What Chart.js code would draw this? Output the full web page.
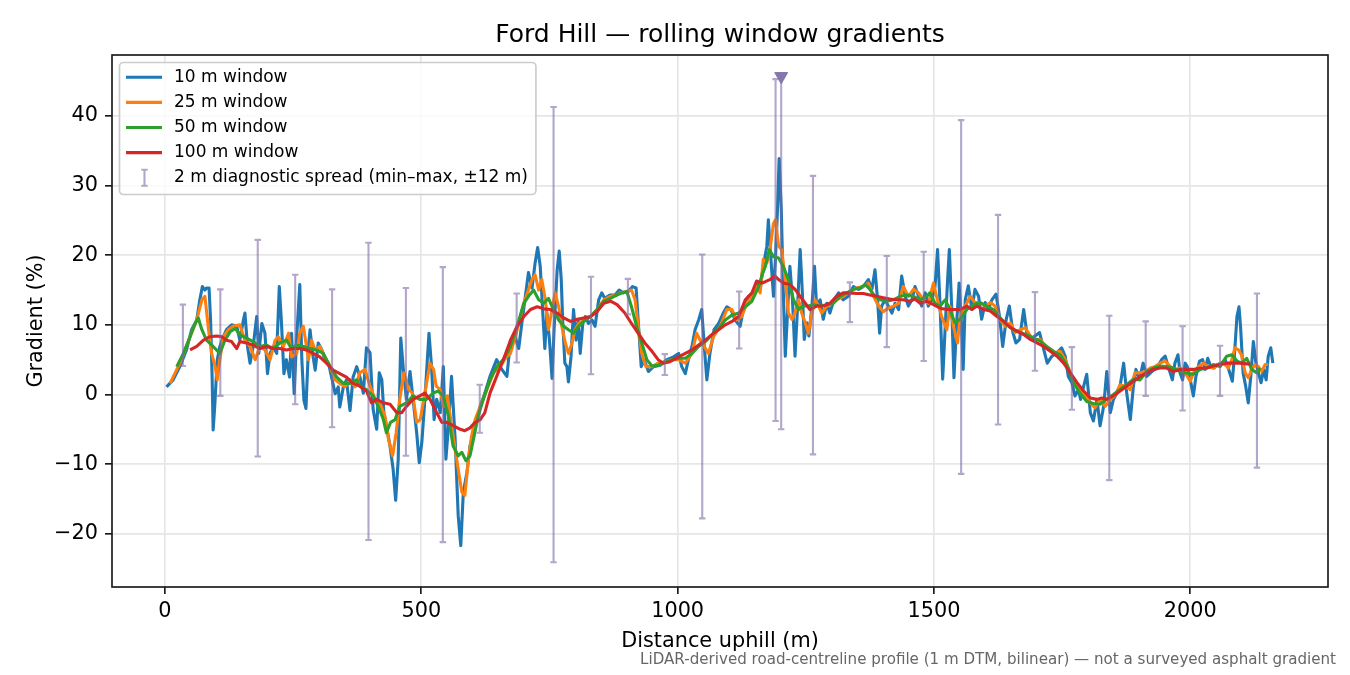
<!DOCTYPE html>
<html>
<head>
<meta charset="utf-8">
<title>Ford Hill gradients</title>
<script src="https://cdn.jsdelivr.net/npm/chart.js@4.4.1/dist/chart.umd.min.js"></script>
<style>
  html, body { margin: 0; padding: 0; background: #fff; }
  #wrap { width: 1350px; height: 675px; }
</style>
</head>
<body>
<div id="wrap"><canvas id="myChart" width="1350" height="675"></canvas></div>
<script>
// distance (m), gradient (%)
const win10 = [
  [3,1.1],[16,2.1],[29,4.0],[42,6.4],[52,9.3],[62,10.7],[68,13.6],[73,15.5],[78,15.0],[81,15.3],[86,15.3],[89,10.7],[92,2.5],[94,-5.1],[97,-1.8],
  [102,5.0],[107,6.9],[114,8.3],[120,9.3],[130,10.0],[140,9.8],[146,7.8],[153,10.7],[156,11.7],[161,6.9],[166,4.5],[172,6.9],[179,11.2],[183,5.9],
  [189,10.2],[195,8.8],[200,3.0],[205,5.9],[211,6.9],[218,5.9],[223,15.5],[227,10.7],[232,3.0],[237,5.0],[243,2.5],[247,8.8],[252,0.1],[257,8.3],
  [263,15.8],[267,5.0],[271,-0.8],[275,-2.0],[280,6.9],[283,9.3],[288,5.9],[293,3.5],[299,7.4],[306,6.4],[312,5.0],[319,4.5],[325,2.5],[332,0.1],
  [338,1.1],[341,-1.8],[348,1.1],[354,2.1],[361,-2.3],[367,2.5],[374,4.0],
  [380,2.6],[387,0.2],[393,6.7],[400,6.0],[406,-2.1],[413,-5.0],[418,3.1],[423,2.1],[427,-2.6],[432,-4.5],[439,-7.4],[445,-10.7],[450,-15.2],
  [455,-9.3],[460,8.1],[465,3.6],[471,-0.7],[478,3.3],[484,-0.7],[491,-5.5],[496,-9.8],[501,-6.9],[507,-0.7],[515,8.8],[520,4.0],[525,-3.6],
  [530,-0.7],[537,-2.6],[543,4.0],[548,-9.3],[553,-4.5],[559,2.6],[566,-6.4],[572,-17.4],[577,-21.7],[582,-14.0],[589,-11.2],[595,-7.4],
  [602,-5.5],[608,-4.0],[615,-1.7],[624,0.2],[634,2.6],[647,5.0],[657,3.6],[667,2.6],
  [674,7.8],[683,8.3],[690,6.6],[696,10.2],[703,14.1],[709,17.5],[716,15.3],[722,18.9],[727,21.1],[732,18.4],[737,11.7],[741,6.6],[745,11.7],
  [750,7.8],[755,2.3],[759,9.3],[765,17.9],[769,20.6],[773,16.5],[776,10.2],[780,4.5],[784,4.0],[787,1.8],[792,5.4],[797,12.2],[802,7.8],
  [806,10.7],[810,5.9],[815,10.2],[820,11.2],[826,10.2],[833,10.7],[839,9.8],[846,13.6],[852,14.6],
  [858,13.8],[868,14.3],[878,14.3],[886,15.0],[894,14.6],[904,14.8],[912,15.5],[919,15.3],[923,10.7],[929,4.0],[935,5.0],
  [943,3.3],[953,4.0],[966,4.2],[979,5.0],[992,5.4],[1002,5.9],[1008,4.0],[1015,3.0],[1021,5.0],[1028,6.9],[1034,9.3],[1041,10.7],[1047,12.2],
  [1052,6.9],[1057,2.1],[1063,5.9],[1071,9.3],[1080,10.2],[1089,11.7],[1096,12.6],[1104,12.2],[1112,10.7],[1122,9.8],[1128,12.2],[1138,14.1],
  [1148,14.6],[1158,16.0],
  [1161,15.1],[1167,18.4],[1174,21.3],[1177,25.1],[1182,19.4],[1187,14.1],[1191,19.8],[1195,27.0],[1198,33.9],[1202,27.0],[1206,15.1],[1210,5.5],
  [1215,12.7],[1219,18.4],[1224,13.6],[1229,5.5],[1234,12.7],[1239,20.8],[1243,15.1],[1247,7.9],[1252,10.3],[1256,8.4],[1262,12.7],[1267,18.4],
  [1271,12.7],[1278,13.6],[1284,10.8],[1291,13.1],[1297,11.7],[1305,13.6],[1314,14.6],[1323,13.6],[1333,14.1],[1343,15.5],[1353,15.1],[1362,15.5],
  [1372,16.5],[1379,15.1],[1385,17.9],[1390,13.6],[1394,8.8],[1398,12.7],[1405,13.6],[1411,12.7],[1418,11.7],[1424,13.1],[1431,12.2],[1437,17.0],
  [1444,14.1],[1450,12.7],[1457,13.6],[1463,15.5],[1470,14.1],[1476,12.7],[1483,14.6],[1489,12.7],[1496,13.6],[1502,15.5],[1507,20.8],[1512,12.7],
  [1517,2.2],[1522,9.8],[1527,17.0],[1530,20.8],[1535,11.7],[1539,2.4],[1544,9.8],[1549,16.0],
  [1554,9.8],[1557,3.6],[1561,13.6],[1567,15.6],[1574,12.2],[1580,15.1],[1587,14.1],[1593,10.8],[1600,13.2],[1606,12.2],[1613,13.6],[1621,14.4],
  [1628,11.2],[1634,6.9],[1641,10.8],[1647,12.7],[1654,8.9],[1660,7.4],[1667,7.9],[1675,12.2],[1681,8.9],[1689,7.9],[1697,8.4],[1706,8.9],
  [1714,6.5],[1721,4.5],[1730,5.5],[1740,6.0],[1749,6.7],[1756,5.5],[1762,2.6],[1769,1.7],[1775,-0.2],[1782,0.7],[1786,-0.7],[1792,1.2],
  [1798,2.9],[1805,-2.6],[1811,-3.8],[1818,-0.7],[1824,-4.5],[1831,-1.7],[1837,3.3],[1844,-2.6],[1850,-0.7],[1857,0.2],[1863,1.2],[1870,4.5],
  [1876,0.2],[1883,-3.6],[1889,1.2],[1894,3.6],[1901,2.2],
  [1908,4.5],[1915,2.6],[1925,3.3],[1935,3.8],[1944,5.0],[1951,5.5],[1957,4.0],[1965,2.1],[1970,4.5],[1976,5.7],[1980,3.1],[1985,2.1],[1990,4.5],
  [1994,4.0],[2000,2.1],[2006,-0.2],[2011,2.6],[2018,4.8],[2024,5.0],[2029,3.6],[2034,5.2],[2040,4.0],[2046,3.8],[2053,4.3],[2061,4.5],[2068,5.0],
  [2074,3.8],[2082,1.9],[2086,5.5],[2091,11.2],[2095,12.6],[2098,9.8],[2103,3.1],[2108,1.2],[2113,-1.2],[2118,2.6],[2123,7.6],[2128,4.5],
  [2133,3.1],[2138,1.7],[2143,3.6],[2148,2.1],[2152,5.5],[2157,6.7],[2161,4.5]
];

const win25 = [
  [10,1.6],[29,4.5],[49,8.3],[62,10.7],[72,13.6],[78,14.1],[85,9.3],[91,5.9],[98,4.0],[102,2.1],[107,5.0],[114,8.3],[124,9.3],[133,9.8],[146,10.0],
  [156,7.8],[166,6.9],[176,5.0],[185,6.9],[195,6.4],[205,5.0],[215,7.8],[221,8.3],[231,6.9],[241,8.8],[247,5.4],[257,5.9],[263,8.8],[270,9.8],
  [280,5.0],[286,7.8],[293,6.4],[302,6.9],[312,5.4],[322,4.0],[332,2.1],[341,1.6],[351,1.1],[361,2.1],[371,1.1],
  [380,3.1],[390,3.6],[400,1.2],[410,-0.7],[419,-1.2],[429,-3.1],[436,-6.4],[444,-8.8],[451,-5.5],[458,-0.7],[466,3.1],[475,0.7],[483,0.2],
  [491,-4.0],[498,-3.6],[507,0.2],[517,4.5],[524,3.6],[529,1.2],[537,0.7],[543,-1.7],[551,-0.2],[559,-4.5],[569,-9.3],[579,-14.0],[585,-14.5],
  [592,-9.3],[598,-6.0],[605,-3.6],[615,-1.7],[628,0.7],[641,3.1],[654,4.0],[667,5.5],
  [674,5.9],[687,9.3],[700,13.1],[709,15.0],[716,16.5],[722,17.2],[729,15.0],[735,16.5],[742,13.6],[748,9.3],[755,12.2],[761,14.6],[768,12.6],
  [774,9.8],[781,7.4],[787,5.9],[794,7.4],[800,9.3],[807,10.2],[817,10.7],[830,11.2],[843,12.2],[856,13.6],[869,14.1],[882,14.3],
  [888,14.6],[901,14.8],[910,15.0],[917,13.6],[923,9.8],[930,5.9],[938,4.0],[950,4.0],[962,4.5],[975,4.7],[989,5.0],[1002,5.0],[1015,4.5],[1028,5.9],
  [1037,8.8],[1044,7.8],[1052,6.9],[1060,5.9],[1070,8.3],[1083,9.8],[1096,12.2],[1106,12.2],[1115,10.7],[1125,11.2],[1135,13.1],[1145,14.1],
  [1154,15.5],
  [1161,14.6],[1167,19.4],[1174,18.9],[1180,20.8],[1187,24.6],[1191,25.1],[1197,21.3],[1203,20.8],[1210,16.5],[1216,11.7],[1223,10.8],[1229,11.7],
  [1236,13.6],[1242,11.7],[1249,10.3],[1255,8.8],[1262,11.7],[1268,13.6],[1275,12.7],[1281,11.7],[1291,12.7],[1301,13.1],[1310,13.6],[1323,14.1],
  [1336,14.8],[1349,15.3],[1362,15.5],[1372,16.0],[1382,14.1],[1392,12.7],[1401,11.9],[1411,12.4],[1421,12.7],[1431,13.1],[1440,15.5],[1450,14.1],
  [1460,15.1],[1470,14.6],[1479,13.6],[1489,13.1],[1499,16.0],[1505,14.1],[1515,11.2],[1525,9.3],[1531,12.7],[1538,9.8],[1546,7.4],
  [1551,11.2],[1561,12.7],[1571,14.1],[1580,13.2],[1590,13.2],[1600,12.7],[1610,13.2],[1619,12.7],[1629,10.8],[1639,9.8],[1649,10.3],[1658,8.9],
  [1668,9.3],[1678,9.6],[1688,8.4],[1697,7.9],[1707,7.9],[1717,6.9],[1727,6.5],[1736,6.0],[1746,6.2],[1756,5.0],[1766,3.1],[1775,1.4],[1785,0.5],
  [1795,-0.2],[1805,-1.2],[1814,-1.9],[1824,-0.7],[1834,-1.7],[1844,-0.7],[1853,-0.2],[1863,1.4],[1873,1.2],[1883,0.7],[1892,3.1],
  [1902,3.1],[1912,3.3],[1922,3.8],[1931,4.0],[1941,4.5],[1951,4.8],[1961,4.0],[1970,3.6],[1980,3.8],[1990,3.1],[2000,1.9],[2006,3.1],[2016,4.0],
  [2026,4.5],[2035,4.0],[2045,3.8],[2055,4.3],[2065,4.5],[2074,3.8],[2081,5.0],[2087,6.7],[2094,6.4],[2100,5.7],[2107,3.1],[2113,2.4],[2120,3.6],
  [2126,4.3],[2133,4.0],[2139,3.3],[2146,4.3],[2152,4.3]
];

const win50 = [
  [23,4.0],[36,5.9],[49,8.3],[59,10.2],[65,11.0],[72,9.3],[81,7.8],[94,6.9],[107,5.9],[117,7.8],[127,9.0],[137,9.5],[146,8.6],[159,8.1],[172,7.6],
  [185,6.9],[198,7.1],[211,6.6],[224,7.4],[237,7.8],[247,6.6],[257,7.1],[270,6.9],[283,6.6],[296,6.4],[309,5.9],[322,4.0],[335,2.5],[348,1.6],
  [361,1.6],[374,2.1],
  [380,1.2],[393,0.7],[406,-0.2],[416,-1.7],[426,-3.6],[432,-5.5],[440,-4.0],[449,-3.6],[458,-1.7],[471,-1.2],[484,-0.2],[497,-0.7],[510,-0.7],
  [523,0.2],[533,0.5],[543,-0.2],[553,-3.1],[562,-7.4],[572,-8.8],[579,-8.3],[587,-9.5],[595,-8.8],[603,-6.0],[611,-3.1],[621,-0.7],[634,2.1],
  [647,4.0],[660,5.0],
  [674,6.9],[687,9.8],[700,13.1],[709,14.1],[719,15.0],[729,13.6],[739,13.1],[748,13.8],[758,12.2],[768,10.7],[778,9.8],[787,9.3],[797,8.8],
  [807,9.8],[817,10.5],[830,11.2],[843,12.2],[856,13.4],[869,13.8],[882,14.3],
  [888,14.5],[901,14.8],[910,12.6],[920,9.8],
  [930,7.4],[940,5.0],[950,4.1],[962,4.2],[975,4.6],[989,5.0],[1002,5.2],[1015,5.2],[1028,5.9],[1041,6.9],[1054,7.6],[1067,8.6],[1080,9.5],
  [1093,10.7],[1106,11.4],[1119,11.7],[1132,12.6],[1145,13.4],[1158,15.5],
  [1164,17.0],[1171,18.4],[1179,20.8],[1187,19.8],[1197,19.6],[1206,18.4],[1216,16.5],[1226,13.6],[1236,12.2],[1245,12.7],[1255,12.7],[1265,12.9],
  [1278,12.7],[1291,12.9],[1304,13.1],[1317,14.1],[1330,14.6],[1343,15.1],[1356,15.3],[1366,15.8],[1375,15.1],[1385,14.1],[1395,13.6],[1408,13.4],
  [1421,13.6],[1434,14.1],[1447,14.3],[1460,14.1],[1473,13.6],[1486,14.1],[1492,14.6],[1502,13.1],[1512,12.7],[1522,13.6],[1531,12.2],[1541,10.3],
  [1551,10.8],[1564,12.2],[1577,12.9],[1590,13.2],[1603,12.7],[1616,12.2],[1629,11.0],[1642,10.0],[1655,9.3],[1668,8.9],[1681,8.6],[1694,8.1],
  [1707,7.7],[1720,6.9],[1733,6.2],[1746,5.7],[1759,4.3],[1772,1.7],[1785,0.2],[1798,-1.0],[1811,-1.3],[1824,-1.4],[1837,-0.7],[1850,0.0],
  [1863,0.7],[1876,1.4],[1889,2.2],
  [1902,2.1],[1915,3.3],[1928,3.8],[1941,4.1],[1954,4.0],[1967,3.8],[1980,3.3],[1993,3.1],[2006,2.9],[2019,3.6],[2032,3.8],[2045,4.3],[2058,4.0],
  [2071,5.5],[2081,5.7],[2091,4.8],[2100,4.5],[2110,5.2],[2120,3.6],[2130,3.1],[2136,3.8]
];

const win100 = [
  [49,6.4],[62,6.9],[75,7.8],[88,8.3],[101,8.4],[111,8.3],[120,7.8],[130,7.6],[140,6.6],[146,7.6],[159,7.4],[172,7.1],[185,6.6],[198,6.9],
  [211,6.6],[224,6.6],[237,6.4],[250,6.6],[263,6.6],[276,6.4],[289,5.9],[302,5.4],[315,4.5],[328,3.5],[341,3.0],[354,2.5],[367,1.6],
  [380,1.2],[393,0.5],[403,-1.2],[413,-0.7],[426,-1.2],[439,-1.4],[452,-2.6],[462,-2.6],[471,-1.7],[484,-0.7],[497,-0.2],[507,0.2],[517,-0.7],
  [530,-2.6],[540,-4.0],[550,-4.0],[563,-4.5],[576,-5.0],[585,-5.2],[595,-4.8],[605,-4.0],[615,-3.6],[624,-2.6],[634,0.2],[647,2.6],[660,5.0],
  [674,7.8],[687,9.8],[700,11.2],[713,12.2],[726,12.6],[739,12.3],[752,12.2],[765,11.7],[778,11.0],[791,10.5],[804,10.8],[817,11.0],[830,11.2],
  [843,11.9],[856,13.1],[869,13.4],[882,12.9],
  [897,11.7],[910,10.2],[923,8.8],[936,7.4],[950,6.2],[962,5.0],[972,4.5],[985,4.7],[1002,5.4],[1015,5.9],[1028,6.4],[1041,7.1],[1054,7.8],[1067,8.6],
  [1080,9.3],[1093,10.0],[1106,10.5],[1119,11.2],[1132,13.6],[1145,14.6],[1154,16.3],
  [1164,16.0],[1171,16.2],[1180,16.5],[1190,17.0],[1197,16.5],[1206,16.0],[1219,15.8],[1229,15.1],[1239,14.1],[1249,13.1],[1258,12.2],[1271,12.7],
  [1284,12.7],[1297,13.1],[1310,14.1],[1323,14.6],[1336,14.6],[1349,14.5],[1362,14.5],[1375,14.3],[1388,14.1],[1401,13.9],[1414,13.7],[1427,13.6],
  [1440,13.6],[1453,13.4],[1463,13.7],[1473,13.1],[1486,13.4],[1499,12.9],[1512,12.4],[1525,12.2],[1538,12.2],
  [1551,12.2],[1564,12.7],[1574,12.2],[1584,12.7],[1597,12.2],[1610,12.0],[1623,11.2],[1636,10.5],[1649,9.6],[1662,9.1],[1675,8.6],[1688,7.9],
  [1701,7.4],[1714,6.9],[1727,6.2],[1740,5.5],[1753,4.5],[1766,3.1],[1779,1.7],[1792,0.5],[1805,-0.5],[1818,-0.7],[1827,-0.5],[1837,-0.7],
  [1850,-0.2],[1863,0.5],[1876,1.2],[1889,1.9],
  [1902,2.6],[1915,3.1],[1928,3.6],[1941,3.8],[1954,3.8],[1967,3.3],[1980,3.6],[1993,3.6],[2006,3.6],[2019,3.8],[2032,3.8],[2045,4.1],[2058,4.3],
  [2071,4.5],[2084,4.5],[2097,4.5],[2110,4.4],[2117,4.4]
];

// 2 m diagnostic spread, min and max within +-12 m
const spreadX  = [35, 108, 181, 254, 326, 397, 470, 542, 614, 686, 758, 831, 903, 975, 1048, 1120, 1191, 1202, 1264, 1336, 1408, 1480, 1553, 1625, 1697, 1769, 1842, 1913, 1985, 2058, 2130];
const spreadHi = [12.9, 15.1, 22.2, 17.2, 15.1, 21.8, 15.3, 18.3, 1.4, 14.5, 41.3, 16.9, 16.6, 5.8, 20.1, 14.8, 45.3, 45.4, 31.4, 16.1, 19.9, 20.5, 39.4, 25.8, 14.7, 6.8, 11.3, 10.5, 9.8, 7.0, 14.5];
const spreadLo = [4.1, -0.2, -8.9, -1.4, -4.7, -20.9, -8.8, -21.2, -5.5, 4.6, -24.1, 2.9, 11.5, 2.8, -17.8, 6.6, -3.8, -5.0, -8.6, 10.4, 6.8, 4.8, -11.4, -4.3, 3.4, -2.2, -12.3, -0.2, -2.3, -0.2, -10.5];

// steepest 2 m reading
const peakX = [1202];
const peakY = [45.7];

const xTicks = [0, 500, 1000, 1500, 2000];
const yTicks = [-20, -10, 0, 10, 20, 30, 40];

const seriesNames = ['10 m window', '25 m window', '50 m window', '100 m window'];
const seriesColors = ['#1f77b4', '#ff7f0e', '#2ca02c', '#d62728'];
const spreadLabel = '2 m diagnostic spread (min\u2013max, \u00b112 m)';
const spreadColor = 'rgba(122, 104, 165, 0.58)';
const peakColor = '#8677aa';

const LW = 3.1;
Chart.defaults.font.family = "'DejaVu Sans', sans-serif";

function toPoints(arr) {
  return arr.map(p => ({x: p[0], y: p[1]}));
}

const lineSets = [win10, win25, win50, win100].map((arr, i) => ({
  label: seriesNames[i],
  data: toPoints(arr),
  borderColor: seriesColors[i],
  backgroundColor: seriesColors[i],
  borderWidth: LW,
  borderJoinStyle: 'round',
  pointRadius: 0,
  tension: 0,
  order: 10 - i
}));

const peakSet = {
  label: 'peak',
  data: peakX.map((x, i) => ({x: x, y: peakY[i]})),
  showLine: false,
  pointStyle: 'triangle',
  pointRotation: 180,
  pointRadius: 7.5,
  pointBackgroundColor: peakColor,
  pointBorderColor: peakColor,
  pointBorderWidth: 1,
  order: 0
};

// error bars go in just before the peak marker
const spreadPlugin = {
  id: 'spread',
  beforeDatasetDraw(chart, args) {
    if (args.index !== 4) return;
    const {ctx, chartArea, scales: {x, y}} = chart;
    ctx.save();
    ctx.beginPath();
    ctx.rect(chartArea.left, chartArea.top, chartArea.width, chartArea.height);
    ctx.clip();
    ctx.strokeStyle = spreadColor;
    ctx.lineWidth = 2.1;
    for (let i = 0; i < spreadX.length; i++) {
      const px = x.getPixelForValue(spreadX[i]);
      const top = y.getPixelForValue(spreadHi[i]);
      const bot = y.getPixelForValue(spreadLo[i]);
      ctx.beginPath();
      ctx.moveTo(px, top); ctx.lineTo(px, bot);
      ctx.moveTo(px - 3.2, top); ctx.lineTo(px + 3.2, top);
      ctx.moveTo(px - 3.2, bot); ctx.lineTo(px + 3.2, bot);
      ctx.stroke();
    }
    ctx.restore();
  }
};

const decorPlugin = {
  id: 'decor',
  afterDraw(chart) {
    const {ctx, chartArea: a} = chart;
    ctx.save();
    // spines
    ctx.strokeStyle = '#1a1a1a';
    ctx.lineWidth = 1.67;
    ctx.strokeRect(a.left, a.top, a.right - a.left, a.bottom - a.top);

    // title and axis labels
    ctx.fillStyle = '#000';
    ctx.textAlign = 'center';
    ctx.textBaseline = 'alphabetic';
    ctx.font = "25px 'DejaVu Sans'";
    ctx.fillText('Ford Hill \u2014 rolling window gradients', (a.left + a.right) / 2, 42);
    ctx.font = "20.8px 'DejaVu Sans'";
    ctx.fillText('Distance uphill (m)', (a.left + a.right) / 2, 647);
    ctx.save();
    ctx.translate(42, (a.top + a.bottom) / 2);
    ctx.rotate(-Math.PI / 2);
    ctx.fillText('Gradient (%)', 0, 0);
    ctx.restore();

    // footnote
    ctx.font = "15.1px 'DejaVu Sans'";
    ctx.fillStyle = '#666';
    ctx.textAlign = 'right';
    ctx.fillText('LiDAR-derived road-centreline profile (1 m DTM, bilinear) \u2014 not a surveyed asphalt gradient', 1336, 664);

    // legend
    ctx.font = "17px 'DejaVu Sans'";
    const textX = a.left + 62;
    let maxW = 0;
    seriesNames.concat([spreadLabel]).forEach(t => { maxW = Math.max(maxW, ctx.measureText(t).width); });
    const bx = a.left + 7.5, by = a.top + 7.5;
    const bw = textX + maxW + 8 - bx, bh = 132;
    ctx.beginPath();
    ctx.roundRect(bx, by, bw, bh, 4);
    ctx.fillStyle = 'rgba(255,255,255,0.8)';
    ctx.fill();
    ctx.strokeStyle = '#cccccc';
    ctx.lineWidth = 1.67;
    ctx.stroke();

    ctx.textAlign = 'left';
    ctx.textBaseline = 'middle';
    const rowY = i => a.top + 22.3 + i * 25.1;
    seriesNames.forEach((t, i) => {
      ctx.strokeStyle = seriesColors[i];
      ctx.lineWidth = LW;
      ctx.beginPath();
      ctx.moveTo(a.left + 14, rowY(i));
      ctx.lineTo(a.left + 50, rowY(i));
      ctx.stroke();
      ctx.fillStyle = '#000';
      ctx.fillText(t, textX, rowY(i));
    });
    const ey = rowY(4), ex = a.left + 32.5;
    ctx.strokeStyle = spreadColor;
    ctx.lineWidth = 2.1;
    ctx.beginPath();
    ctx.moveTo(ex, ey - 8); ctx.lineTo(ex, ey + 8);
    ctx.moveTo(ex - 3.2, ey - 8); ctx.lineTo(ex + 3.2, ey - 8);
    ctx.moveTo(ex - 3.2, ey + 8); ctx.lineTo(ex + 3.2, ey + 8);
    ctx.stroke();
    ctx.fillStyle = '#000';
    ctx.fillText(spreadLabel, textX, ey);
    ctx.restore();
  }
};

const gridOpts = {
  color: '#e6e6e6',
  lineWidth: 1.67,
  tickColor: '#1a1a1a',
  tickWidth: 1.67,
  tickLength: 7
};

const config = {
  type: 'line',
  data: { datasets: lineSets.concat([peakSet]) },
  options: {
    responsive: false,
    devicePixelRatio: 1,
    animation: false,
    layout: { padding: { left: 0, right: 22, top: 55, bottom: 0 } },
    plugins: {
      legend: { display: false },
      tooltip: { enabled: false },
      title: { display: false }
    },
    scales: {
      x: {
        type: 'linear',
        min: -103.3,
        max: 2268.6,
        grid: gridOpts,
        border: { display: false },
        ticks: {
          color: '#000',
          font: { size: 20.8 },
          padding: 5,
          maxRotation: 0,
          callback: v => String(v)
        },
        afterBuildTicks: axis => { axis.ticks = xTicks.map(v => ({value: v})); },
        afterFit: axis => { axis.height = 88; }
      },
      y: {
        type: 'linear',
        min: -27.65,
        max: 48.76,
        grid: gridOpts,
        border: { display: false },
        ticks: {
          color: '#000',
          font: { size: 20.8 },
          padding: 7,
          callback: v => (v < 0 ? '\u2212' + Math.abs(v) : String(v))
        },
        afterBuildTicks: axis => { axis.ticks = yTicks.map(v => ({value: v})); },
        afterFit: axis => { axis.width = 112; }
      }
    }
  },
  plugins: [spreadPlugin, decorPlugin]
};

const myChart = new Chart(document.getElementById('myChart'), config);
</script>
</body>
</html>
